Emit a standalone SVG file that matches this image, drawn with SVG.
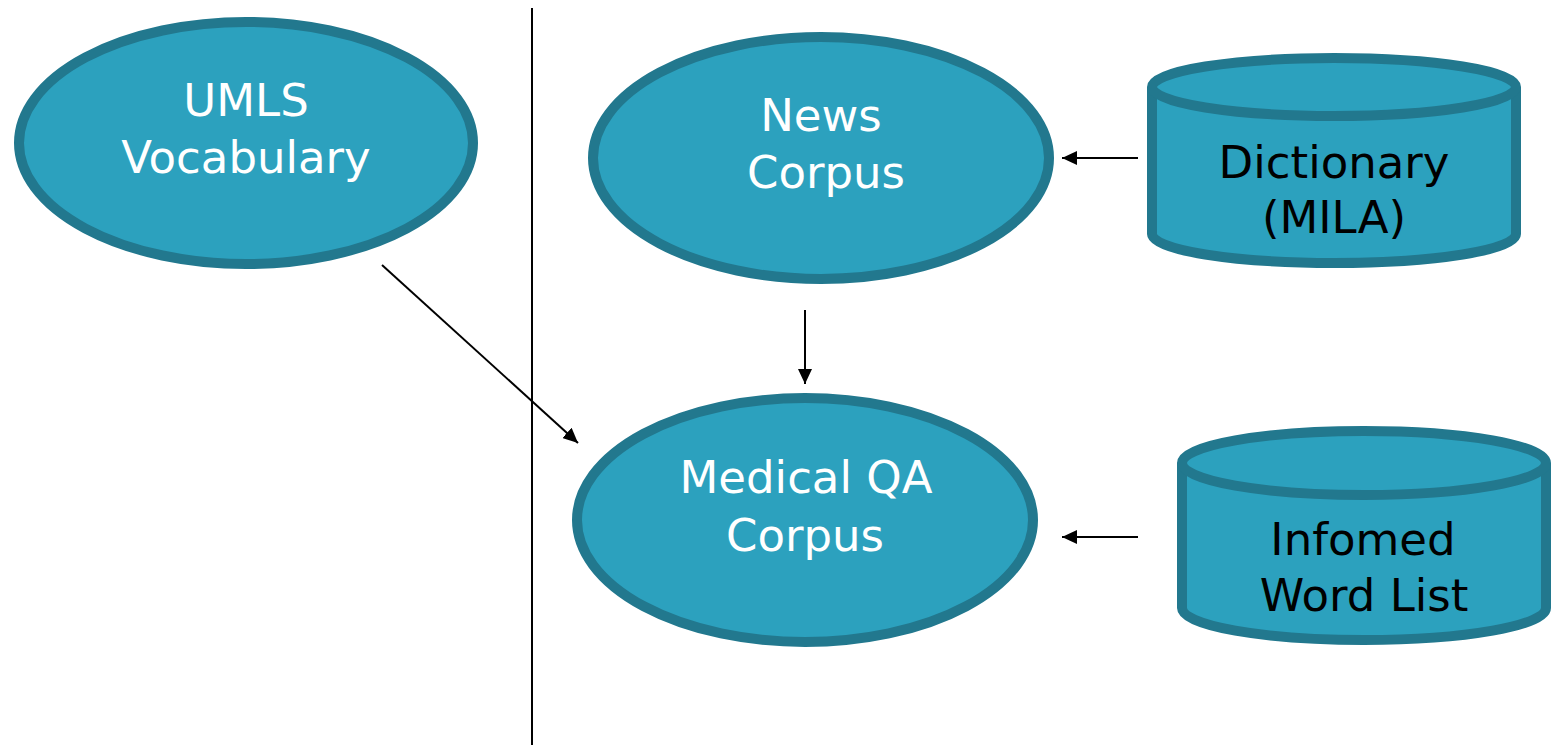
<svg xmlns="http://www.w3.org/2000/svg" width="1557" height="745" viewBox="0 0 1557 745">
<style>
.node{fill:#2CA1BE;stroke:#22788E;stroke-width:10}
.lbl{font-family:"DejaVu Sans",sans-serif;font-size:45px;text-anchor:middle}
.w{fill:#fff}
.k{fill:#000}
.conn{stroke:#000;stroke-width:2;fill:none}
</style>
<defs>
<marker id="ah" viewBox="0 0 15 14" refX="15" refY="7" markerWidth="15" markerHeight="14" markerUnits="userSpaceOnUse" orient="auto">
<path d="M0,0 L15,7 L0,14 Z" fill="#000"/>
</marker>
</defs>
<rect width="1557" height="745" fill="#fff"/>
<line x1="532" y1="8" x2="532" y2="745" stroke="#000" stroke-width="2"/>
<g id="umls">
<ellipse class="node" cx="246" cy="143" rx="227" ry="121"/>
<text class="lbl w" x="246" y="116">UMLS</text>
<text class="lbl w" x="246" y="173">Vocabulary</text>
</g>
<g id="news">
<ellipse class="node" cx="821" cy="158" rx="228" ry="121"/>
<text class="lbl w" x="821" y="131">News</text>
<text class="lbl w" x="826" y="188">Corpus</text>
</g>
<g id="medqa">
<ellipse class="node" cx="805" cy="520" rx="228" ry="122"/>
<text class="lbl w" x="806" y="493">Medical QA</text>
<text class="lbl w" x="805" y="551">Corpus</text>
</g>
<g id="dictionary">
<path class="node" d="M1152,87 L1152,234 A182,29 0 0 0 1516,234 L1516,87 A182,29 0 0 0 1152,87 Z"/>
<path class="node" d="M1152,87 A182,29 0 0 0 1516,87" fill="none"/>
<text class="lbl k" x="1334" y="178">Dictionary</text>
<text class="lbl k" x="1334" y="233">(MILA)</text>
</g>
<g id="infomed">
<path class="node" d="M1182,463 L1182,608 A182,32 0 0 0 1546,608 L1546,463 A182,32 0 0 0 1182,463 Z"/>
<path class="node" d="M1182,463 A182,32 0 0 0 1546,463" fill="none"/>
<text class="lbl k" x="1363" y="555">Infomed</text>
<text class="lbl k" x="1364" y="611">Word List</text>
</g>
<g id="connectors">
<line class="conn" x1="382" y1="265" x2="578" y2="443" marker-end="url(#ah)"/>
<line class="conn" x1="805" y1="310" x2="805" y2="384" marker-end="url(#ah)"/>
<line class="conn" x1="1138" y1="158" x2="1062" y2="158" marker-end="url(#ah)"/>
<line class="conn" x1="1138" y1="537" x2="1062" y2="537" marker-end="url(#ah)"/>
</g>
</svg>
